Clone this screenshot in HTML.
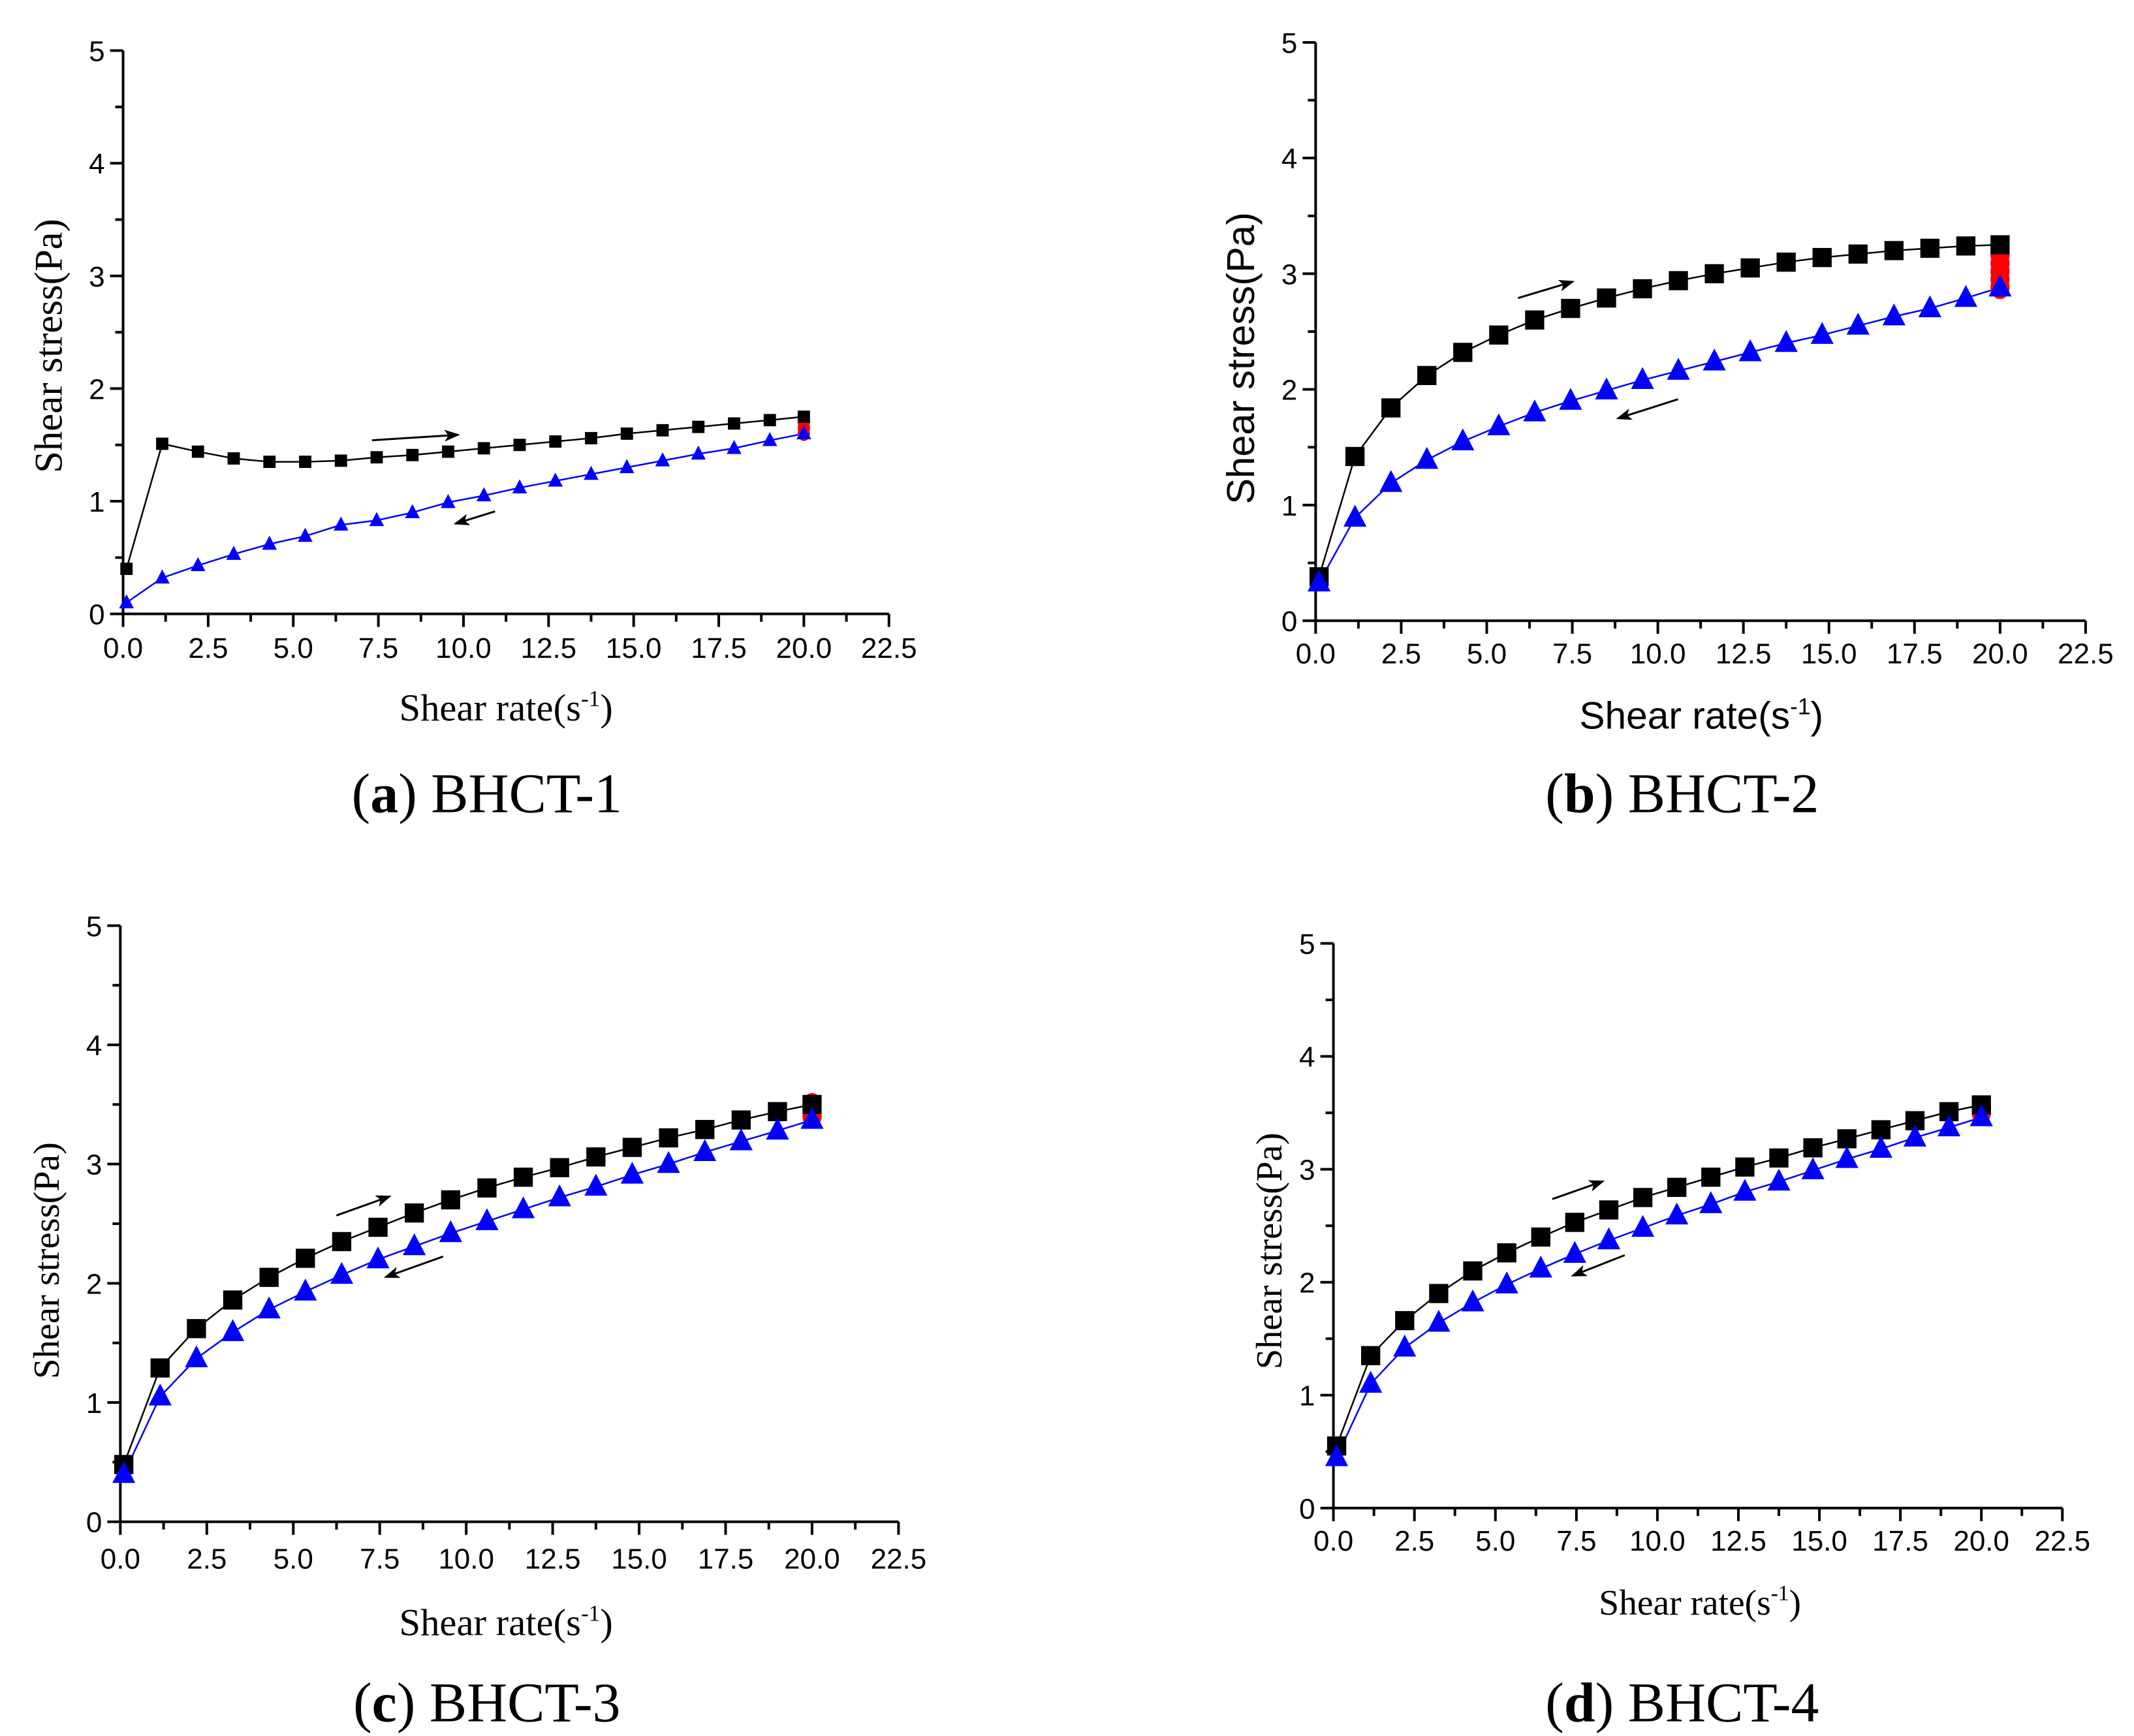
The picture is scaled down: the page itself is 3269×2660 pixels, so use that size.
<!DOCTYPE html>
<html><head><meta charset="utf-8">
<style>
html,body{margin:0;padding:0;background:#fff;}
svg{display:block;}
</style></head>
<body>
<svg id="fig" xmlns="http://www.w3.org/2000/svg" width="3269" height="2660" viewBox="0 0 3269 2660"></svg>
<script>
const xVals = [0.1,1.15,2.2,3.25,4.3,5.35,6.4,7.45,8.5,9.55,10.6,11.65,12.7,13.75,14.8,15.85,16.9,17.95,19.0,20.0];
const upA = [0.4,1.51,1.44,1.38,1.35,1.35,1.36,1.39,1.41,1.44,1.47,1.50,1.53,1.56,1.60,1.63,1.66,1.69,1.72,1.75];
const downA = [0.1,0.32,0.43,0.53,0.62,0.69,0.79,0.83,0.90,0.99,1.05,1.12,1.18,1.24,1.30,1.36,1.42,1.47,1.54,1.60];
const redA = [1.6,1.65,1.7];
const upB = [0.38,1.42,1.84,2.12,2.32,2.47,2.60,2.70,2.79,2.87,2.94,3.00,3.05,3.10,3.14,3.17,3.20,3.22,3.24,3.25];
const downB = [0.33,0.89,1.19,1.39,1.55,1.68,1.80,1.90,1.99,2.08,2.16,2.24,2.32,2.40,2.47,2.55,2.63,2.70,2.79,2.88];
const redB = [2.88,2.95,3.02,3.09,3.16];
const upC = [0.48,1.29,1.62,1.86,2.05,2.21,2.35,2.47,2.59,2.70,2.80,2.89,2.97,3.06,3.14,3.22,3.29,3.37,3.44,3.50];
const downC = [0.40,1.05,1.37,1.59,1.78,1.93,2.07,2.20,2.31,2.42,2.52,2.62,2.72,2.81,2.91,3.00,3.10,3.19,3.28,3.37];
const redC = [3.4,3.45,3.5];
const upD = [0.55,1.35,1.66,1.90,2.10,2.26,2.40,2.53,2.64,2.75,2.84,2.93,3.02,3.10,3.19,3.27,3.35,3.43,3.51,3.57];
const downD = [0.45,1.10,1.42,1.64,1.82,1.98,2.12,2.25,2.37,2.48,2.59,2.69,2.80,2.89,2.99,3.09,3.18,3.28,3.37,3.46];
const redD = [3.5,3.55];
const xTicks = ["0.0","2.5","5.0","7.5","10.0","12.5","15.0","17.5","20.0","22.5"];
const yTicks = ["0","1","2","3","4","5"];
const captionLetters = ["a","b","c","d"];
const captionNames = ["BHCT-1","BHCT-2","BHCT-3","BHCT-4"];

const K = 2.095;
const NS = "http://www.w3.org/2000/svg";
const svg = document.getElementById('fig');
function mk(tag, attrs, parent){
  const e = document.createElementNS(NS, tag);
  for (const k in attrs) e.setAttribute(k, attrs[k]);
  (parent||svg).appendChild(e);
  return e;
}
const SANS = '"Liberation Sans", Arial, sans-serif';
const SERIF = '"Liberation Serif", "Times New Roman", serif';
const panels = [
  {x0:90,x1:650,yTop:37,yBot:449,tickY:474,titleX:370,titleY:527,titleFont:SERIF,titleSize:28,ySize:29,yTitleX:45,yTitleY:253,capX:356,capY:594,ms:9,up:upA,down:downA,red:redA,
   arrUp:[272,322,335,318],arrDn:[362,374,333,383]},
  {x0:962,x1:1525,yTop:31,yBot:454,tickY:478,titleX:1244,titleY:533,titleFont:SANS,titleSize:28,ySize:28.5,yTitleX:917,yTitleY:262,capX:1230,capY:594,ms:14,up:upB,down:downB,red:redB,
   arrUp:[1110,218,1150,206],arrDn:[1227,292,1183,306]},
  {x0:88,x1:657,yTop:677,yBot:1113,tickY:1140,titleX:370,titleY:1196,titleFont:SERIF,titleSize:28,ySize:27,yTitleX:43,yTitleY:922,capX:356,capY:1259,ms:14,up:upC,down:downC,red:redC,
   arrUp:[246,889,285,875],arrDn:[324,919,282,934]},
  {x0:975,x1:1508,yTop:690,yBot:1103,tickY:1127,titleX:1243,titleY:1181,titleFont:SERIF,titleSize:26.5,ySize:27,yTitleX:937,yTitleY:915,capX:1230,capY:1259,ms:14,up:upD,down:downD,red:redD,
   arrUp:[1135,877,1172,864],arrDn:[1188,918,1150,933]}
];
const defs = mk('defs',{});
defs.innerHTML = '<marker id="ah" markerWidth="26" markerHeight="18" refX="7" refY="3" orient="auto" markerUnits="userSpaceOnUse" viewBox="0 0 8 6"><path d="M0,0 L8,3 L0,6 L2,3 z" fill="#000"/></marker>';

panels.forEach((p,i)=>{
  const g = mk('g',{});
  
  
  const X0=p.x0*K, X1=p.x1*K, YT=p.yTop*K, YB=p.yBot*K;
  const sx = v => X0 + (v/22.5)*(X1-X0);
  const sy = v => YB - (v/5)*(YB-YT);
  const ax = mk('path',{d:`M${X0},${YT} L${X0},${YB} L${X1},${YB}`,fill:'none',stroke:'#000','stroke-width':4},g);
  
  
  for(let j=0;j<=18;j++){
    const v=j*1.25, x=sx(v), major=j%2===0;
    mk('line',{x1:x,y1:YB,x2:x,y2:YB+(major?20:12),stroke:'#000','stroke-width':4},g);
  }
  xTicks.forEach((t,j)=>{
    const tx = mk('text',{x:sx(j*2.5),y:p.tickY*K+15,'font-family':SANS,'font-size':44,'text-anchor':'middle'},g);
    tx.textContent=t;
    
    
  });
  for(let j=0;j<=10;j++){
    const v=j*0.5, y=sy(v), major=j%2===0;
    mk('line',{x1:X0,y1:y,x2:X0-(major?20:12),y2:y,stroke:'#000','stroke-width':4},g);
  }
  yTicks.forEach((t,j)=>{
    const ty = mk('text',{x:X0-28,y:sy(j*1)+16,'font-family':SANS,'font-size':44,'text-anchor':'end'},g);
    ty.textContent=t;
    
    
  });
  const fs = p.titleSize*K;
  const xt = mk('text',{x:p.titleX*K,y:p.titleY*K,'font-family':p.titleFont,'font-size':fs,'text-anchor':'middle'},g);
  xt.innerHTML = 'Shear rate(s<tspan dy="-22" font-size="'+(fs*0.6)+'">-1</tspan><tspan dy="22">)</tspan>';
  
  
  const yt = mk('text',{x:0,y:0,'font-family':p.titleFont,'font-size':p.ySize*K,'text-anchor':'middle',transform:`translate(${p.yTitleX*K},${p.yTitleY*K}) rotate(-90)`},g);
  yt.textContent='Shear stress(Pa)';
  
  
  const cap = mk('text',{x:p.capX*K,y:p.capY*K,'font-family':SERIF,'font-size':41*K,'text-anchor':'middle'},g);
  cap.innerHTML = '(<tspan font-weight="bold">'+captionLetters[i]+'</tspan>) '+captionNames[i];
  
  
  const ms = p.ms*K;
  const lineUp = mk('polyline',{points:xVals.map((v,k)=>sx(v)+','+sy(p.up[k])).join(' '),fill:'none',stroke:'#000','stroke-width':2.5},g);
  
  
  const lineDn = mk('polyline',{points:xVals.map((v,k)=>sx(v)+','+sy(p.down[k])).join(' '),fill:'none',stroke:'#00f','stroke-width':2.5},g);
  
  
  p.red.forEach(v=>{
    const c = mk('ellipse',{cx:sx(20),cy:sy(v),rx:ms*0.5,ry:ms*0.6,fill:'#f00'},g);
    
    
  });
  xVals.forEach((v,k)=>{
    const r = mk('rect',{x:sx(v)-ms/2,y:sy(p.up[k])-ms/2,width:ms,height:ms,fill:'#000'},g);
    
    
  });
  xVals.forEach((v,k)=>{
    const cx=sx(v), cy=sy(p.down[k]), h=ms*1.1, w=ms*1.2;
    const t = mk('polygon',{points:`${cx},${cy-h*0.62} ${cx-w/2},${cy+h*0.42} ${cx+w/2},${cy+h*0.42}`,fill:'#00f'},g);
    
    
  });
  [p.arrUp,p.arrDn].forEach((a,k)=>{
    const l = mk('line',{x1:a[0]*K,y1:a[1]*K,x2:a[2]*K,y2:a[3]*K,stroke:'#000','stroke-width':3,'marker-end':'url(#ah)'},g);
    
    
  });
});
</script>
</body></html>
